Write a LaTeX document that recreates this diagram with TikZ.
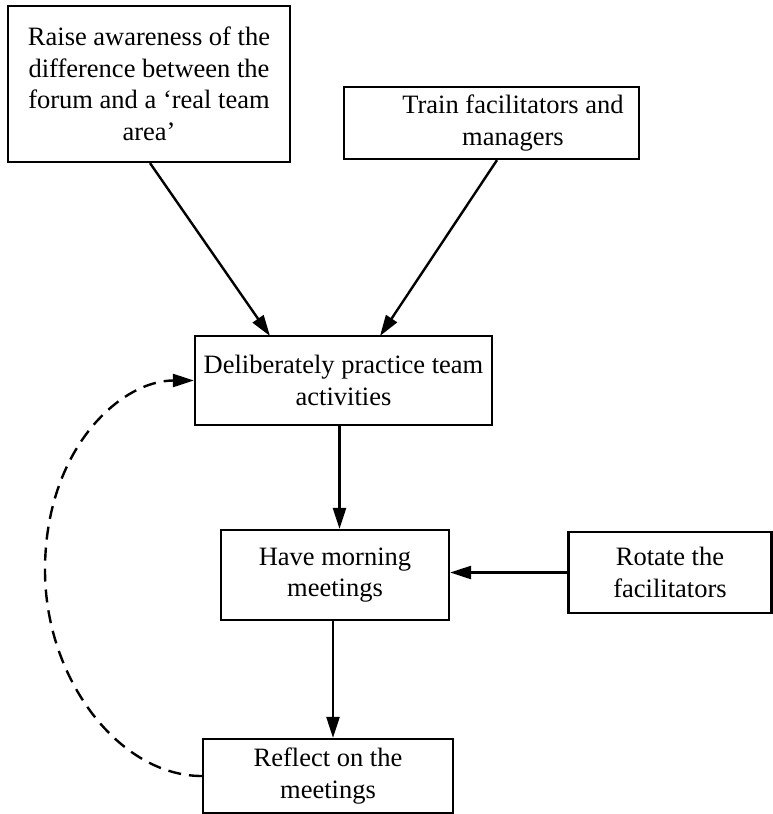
\documentclass[tikz,border=0pt]{standalone}
\usepackage{fontspec}
\setmainfont{Liberation Serif}
\usetikzlibrary{arrows.meta}
\begin{document}
\begin{tikzpicture}[x=1pt,y=-1pt,
  box/.style={draw, line width=2.2pt, inner sep=0pt, align=center,
    font=\fontsize{26.5}{31.5}\selectfont},
  txt/.style={inner sep=0pt, align=center, font=\fontsize{26.5}{31.5}\selectfont},
  arr/.style={line width=2.4pt, -{Triangle[length=21pt,width=13pt]}},
  loop/.style={arr, dash pattern=on 13pt off 8pt}]
\useasboundingbox (0,0) rectangle (773,814);

% boxes
\node[box, minimum width=282pt, minimum height=156pt] (raise) at (149,84)
  {Raise awareness of the\\difference between the\\forum and a ‘real team\\area’};
\node[box, minimum width=295pt, minimum height=72pt] (train) at (491.5,123) {};
\node[txt] (traintext) at (513,123) {Train facilitators and\\managers};
\node[box, minimum width=297pt, minimum height=89pt] (delib) at (343.5,380.5)
  {Deliberately practice team\\activities};
\node[box, minimum width=228pt, minimum height=90pt] (morning) at (335,575)
  {Have morning\\meetings};
\node[box, minimum width=203pt, minimum height=81pt] (rotate) at (670,572.5)
  {Rotate the\\facilitators};
\node[box, minimum width=250pt, minimum height=74pt] (reflect) at (328,776)
  {Reflect on the\\meetings};

% connectors
\coordinate (d1) at (270,336);
\coordinate (d2) at (380,336);
\draw[arr] ([xshift=1pt]raise.south) -- (d1);
\draw[arr] ([xshift=5.5pt]train.south) -- (d2);
\draw[arr] ([xshift=-4pt]delib.south) -- ([xshift=-4pt]delib.south |- morning.north);
\draw[arr] (rotate.west) -- (rotate.west -| morning.east);
\draw[arr] ([xshift=-2pt]morning.south) -- ([xshift=-2pt]morning.south |- reflect.north);

% feedback loop
\draw[loop] (reflect.west) .. controls (120,776) and (45,680) .. (45,570)
  .. controls (45,450) and (120,380.5) .. (delib.west);
\end{tikzpicture}
\end{document}
